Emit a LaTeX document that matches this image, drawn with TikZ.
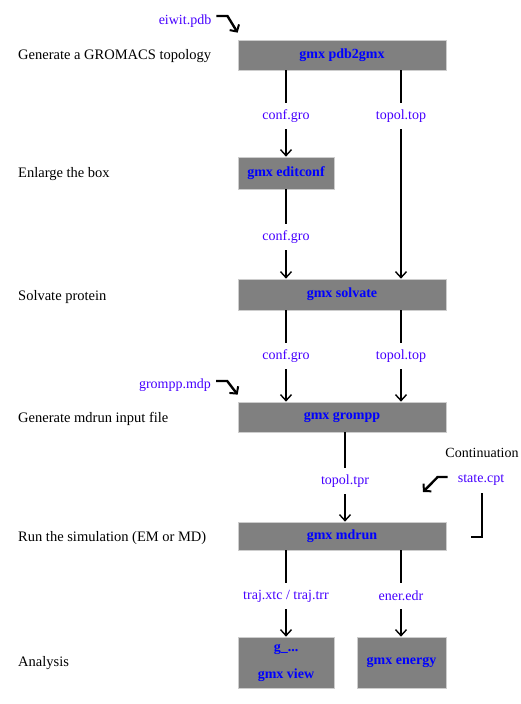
\documentclass[tikz,border=0pt]{standalone}
\usepackage{fontspec}
\setmainfont{Liberation Serif}
\usetikzlibrary{arrows.meta}
\definecolor{boxgray}{RGB}{128,128,128}
\definecolor{boxedge}{RGB}{205,205,205}
\definecolor{lbl}{RGB}{70,0,255}
\definecolor{cmd}{RGB}{0,0,255}
\begin{document}
\begin{tikzpicture}[x=1pt,y=-1pt,
  gbox/.style={draw=boxedge, line width=0.7pt, fill=boxgray, text=cmd,
    font=\fontsize{14}{17}\selectfont\bfseries, inner sep=0pt, align=center},
  file/.style={text=lbl, font=\fontsize{14}{16}\selectfont, inner sep=0pt, minimum height=26pt},
  stage/.style={anchor=west, font=\fontsize{14.5}{16}\selectfont, inner sep=0pt},
  plain/.style={line width=1.7pt, line join=miter},
  flow/.style={line width=1.7pt, line join=miter, -{Straight Barb[length=6pt,width=11pt,line width=1.4pt]}},
  hook/.style={line width=2.4pt, line join=miter, -{Straight Barb[length=5pt,width=11pt,line width=2pt]}}]
\useasboundingbox (0,0) rectangle (520,704);

% stage descriptions
\node[stage] (s1) at (18,56) {Generate a GROMACS topology};
\node[stage] (s2) at (18,174) {Enlarge the box};
\node[stage] (s3) at (18,297) {Solvate protein};
\node[stage] (s4) at (18,419) {Generate mdrun input file};
\node[stage] (s5) at (18,538) {Run the simulation (EM or MD)};
\node[stage] (s6) at (18,663) {Analysis};

% command boxes
\node[gbox, minimum width=208pt, minimum height=30pt] (pdb) at (342,55) {gmx pdb2gmx};
\node[gbox, minimum width=96pt, minimum height=32pt] (edit) at (286,173) {gmx editconf};
\node[gbox, minimum width=208pt, minimum height=31pt] (solv) at (342,294.5) {gmx solvate};
\node[gbox, minimum width=208pt, minimum height=30pt] (gromp) at (342,417) {gmx grompp};
\node[gbox, minimum width=208pt, minimum height=28pt] (mdrun) at (342,536) {gmx mdrun};
\node[gbox, minimum width=96pt, minimum height=51pt, font=\fontsize{14}{27}\selectfont\bfseries] (gview) at (286,662.5) {g\_...\\gmx view};
\node[gbox, minimum width=89pt, minimum height=51pt] (energy) at (401.5,662.5) {gmx energy};

% file labels
\node[file] (eiwit) at (185,21) {eiwit.pdb};
\node[file] (cg1) at (286,116) {conf.gro};
\node[file] (tt1) at (401,116) {topol.top};
\node[file] (cg2) at (286,237) {conf.gro};
\node[file] (cg3) at (286,356) {conf.gro};
\node[file] (tt2) at (401,356) {topol.top};
\node[file] (mdp) at (175,385) {grompp.mdp};
\node[file] (tpr) at (345,481) {topol.tpr};
\node[file] (state) at (481,480) {state.cpt};
\node[file, text=black] (cont) at (482,453) {Continuation};
\node[file] (traj) at (286,596) {traj.xtc / traj.trr};
\node[file] (ener) at (401,596) {ener.edr};

% connectors
\draw[plain] (pdb.south -| cg1) -- (cg1);
\draw[flow] (cg1) -- (edit.north -| cg1);
\draw[plain] (pdb.south -| tt1) -- (tt1);
\draw[flow] (tt1) -- (solv.north -| tt1);
\draw[plain] (edit.south -| cg2) -- (cg2);
\draw[flow] (cg2) -- (solv.north -| cg2);
\draw[plain] (solv.south -| cg3) -- (cg3);
\draw[flow] (cg3) -- (gromp.north -| cg3);
\draw[plain] (solv.south -| tt2) -- (tt2);
\draw[flow] (tt2) -- (gromp.north -| tt2);
\draw[plain] (gromp.south -| tpr) -- (tpr);
\draw[flow] (tpr) -- (mdrun.north -| tpr);
\draw[plain] (mdrun.south -| traj) -- (traj);
\draw[flow] (traj) -- (gview.north -| traj);
\draw[plain] (mdrun.south -| ener) -- (ener);
\draw[flow] (ener) -- (energy.north -| ener);

% hooked input arrows
\draw[hook] ([xshift=5pt,yshift=5pt]eiwit.east) -- ++(11,0) -- ([yshift=7pt]pdb.north west);
\draw[hook] ([xshift=5pt,yshift=4pt]mdp.east) -- ++(11,0) -- ([yshift=7pt]gromp.north west);
\coordinate (stip) at (423,492);
\draw[hook] ([xshift=-10pt,yshift=3pt]state.west) -- ++(-10,0) -- (stip);
\draw[hook, -] ([xshift=1pt]state.south) -- ++(0,44) -- ++(-11,0);
\end{tikzpicture}
\end{document}
